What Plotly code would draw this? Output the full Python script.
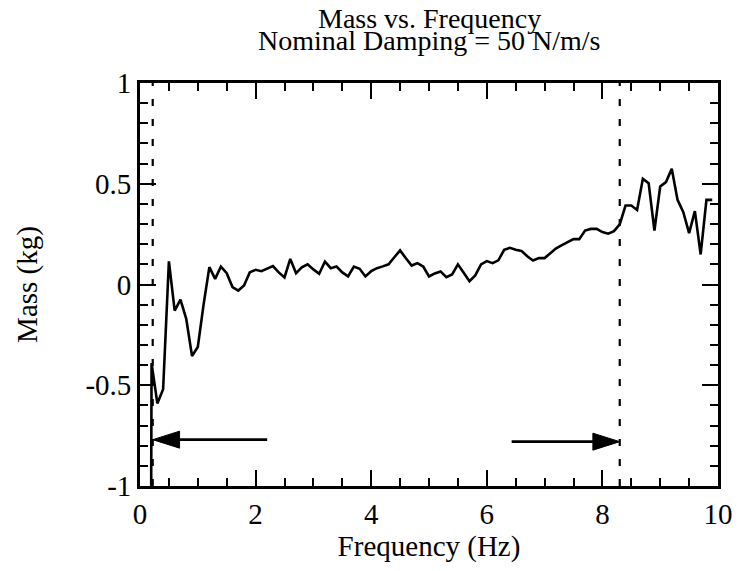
import plotly.graph_objects as go

# ---- data ----
freq_hz = [0.1, 0.2, 0.3, 0.4, 0.5, 0.6, 0.7, 0.8, 0.9, 1.0,
           1.1, 1.2, 1.3, 1.4, 1.5, 1.6, 1.7, 1.8, 1.9, 2.0,
           2.1, 2.2, 2.3, 2.4, 2.5, 2.6, 2.7, 2.8, 2.9, 3.0,
           3.1, 3.2, 3.3, 3.4, 3.5, 3.6, 3.7, 3.8, 3.9, 4.0,
           4.1, 4.2, 4.3, 4.4, 4.5, 4.6, 4.7, 4.8, 4.9, 5.0,
           5.1, 5.2, 5.3, 5.4, 5.5, 5.6, 5.7, 5.8, 5.9, 6.0,
           6.1, 6.2, 6.3, 6.4, 6.5, 6.6, 6.7, 6.8, 6.9, 7.0,
           7.1, 7.2, 7.3, 7.4, 7.5, 7.6, 7.7, 7.8, 7.9, 8.0,
           8.1, 8.2, 8.3, 8.4, 8.5, 8.6, 8.7, 8.8, 8.9, 9.0,
           9.1, 9.2, 9.3, 9.4, 9.5, 9.6, 9.7, 9.8, 9.9]
mass_kg = [-10.0, -0.39, -0.59, -0.52, 0.115, -0.13, -0.075, -0.17, -0.355, -0.31,
           -0.10, 0.086, 0.028, 0.089, 0.056, -0.013, -0.03, -0.005, 0.061, 0.073,
           0.066, 0.078, 0.091, 0.06, 0.035, 0.127, 0.056, 0.085, 0.10, 0.075,
           0.053, 0.114, 0.081, 0.089, 0.06, 0.04, 0.089, 0.078, 0.04, 0.066,
           0.081, 0.09, 0.10, 0.135, 0.169, 0.13, 0.094, 0.106, 0.089, 0.04,
           0.055, 0.065, 0.036, 0.05, 0.10, 0.058, 0.016, 0.045, 0.10, 0.116,
           0.106, 0.12, 0.172, 0.182, 0.172, 0.167, 0.14, 0.119, 0.131, 0.131,
           0.155, 0.18, 0.195, 0.21, 0.225, 0.225, 0.268, 0.276, 0.276, 0.26,
           0.252, 0.265, 0.298, 0.392, 0.392, 0.37, 0.525, 0.503, 0.268, 0.486,
           0.508, 0.574, 0.42, 0.359, 0.255, 0.364, 0.149, 0.42, 0.42]

x_tick_vals = [0, 2, 4, 6, 8, 10]
x_tick_text = ["0", "2", "4", "6", "8", "10"]
y_tick_vals = [-1, -0.5, 0, 0.5, 1]
y_tick_text = ["-1", "-0.5", "0", "0.5", "1"]

band_edges_hz = [0.22, 8.3]          # dashed vertical markers
left_arrow = dict(tail=2.2, tip=0.22, y=-0.77)
right_arrow = dict(tail=6.43, tip=8.3, y=-0.78)

title_line1 = "Mass vs. Frequency"
title_line2 = "Nominal Damping = 50 N/m/s"
x_title = "Frequency (Hz)"
y_title = "Mass (kg)"

# ---- layout geometry (page body has an 8px margin) ----
W, H = 737, 563
ML, MR, MT, MB = 132, 24, 75, 85
X_RANGE = [0, 10]
Y_RANGE = [-1, 1]
FONT = "Liberation Serif, Times New Roman, serif"
FS_TITLE = 28
FS = 29

px_per_x = (W - ML - MR) / (X_RANGE[1] - X_RANGE[0])
px_per_y = (H - MT - MB) / (Y_RANGE[1] - Y_RANGE[0])
HEAD_LEN_PX, HEAD_HALF_PX = 27, 8.5

fig = go.Figure()
fig.add_trace(go.Scatter(x=freq_hz, y=mass_kg, mode="lines",
                         line=dict(color="black", width=2.6),
                         showlegend=False, hoverinfo="skip"))

shapes = []
for xe in band_edges_hz:
    shapes.append(dict(type="line", xref="x", yref="paper", x0=xe, x1=xe, y0=0, y1=1,
                       line=dict(color="black", width=2.2, dash="7px,13px")))

for arr in (left_arrow, right_arrow):
    direction = 1 if arr["tip"] > arr["tail"] else -1
    hl = HEAD_LEN_PX / px_per_x
    hw = HEAD_HALF_PX / px_per_y
    base = arr["tip"] - direction * hl
    shapes.append(dict(type="line", xref="x", yref="y",
                       x0=arr["tail"], x1=base, y0=arr["y"], y1=arr["y"],
                       line=dict(color="black", width=2.6)))
    shapes.append(dict(type="path", xref="x", yref="y",
                       path=f"M {arr['tip']},{arr['y']} L {base},{arr['y'] + hw} L {base},{arr['y'] - hw} Z",
                       fillcolor="black", line=dict(color="black", width=1)))

fig.update_layout(
    width=W, height=H,
    margin=dict(l=ML, r=MR, t=MT, b=MB),
    paper_bgcolor="white", plot_bgcolor="white",
    font=dict(family=FONT, size=FS, color="black"),
    shapes=shapes,
    annotations=[
        dict(text=title_line1, xref="paper", yref="paper", x=0.5, y=1, yshift=65,
             showarrow=False, xanchor="center", yanchor="middle", font=dict(size=FS_TITLE)),
        dict(text=title_line2, xref="paper", yref="paper", x=0.5, y=1, yshift=43,
             showarrow=False, xanchor="center", yanchor="middle", font=dict(size=FS_TITLE)),
    ],
    xaxis=dict(range=X_RANGE, tickvals=x_tick_vals, ticktext=x_tick_text,
               ticks="inside", ticklen=16, tickwidth=2, tickcolor="black",
               showline=True, linewidth=2.8, linecolor="black", mirror="ticks",
               showgrid=False, zeroline=False,
               minor=dict(dtick=0.5, ticks="inside", ticklen=8, tickwidth=2, tickcolor="black", showgrid=False),
               title=dict(text=x_title, standoff=6, font=dict(size=FS)),
               tickfont=dict(size=FS)),
    yaxis=dict(range=Y_RANGE, tickvals=y_tick_vals, ticktext=y_tick_text,
               ticks="inside", ticklen=16, tickwidth=2, tickcolor="black",
               showline=True, linewidth=2.8, linecolor="black", mirror="ticks",
               showgrid=False, zeroline=False,
               minor=dict(dtick=0.1, ticks="inside", ticklen=8, tickwidth=2, tickcolor="black", showgrid=False),
               title=dict(text=y_title, standoff=40, font=dict(size=FS)),
               tickfont=dict(size=FS)),
)

fig.write_html("out.html")
